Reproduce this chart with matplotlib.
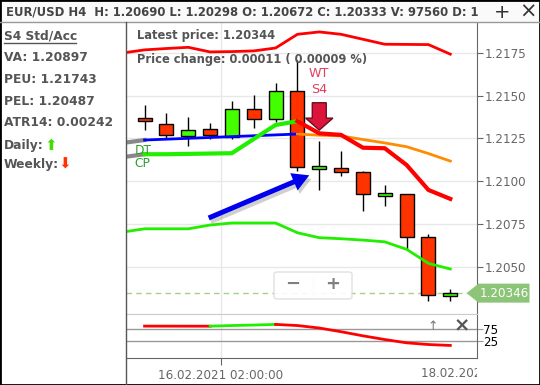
import numpy as np
import matplotlib.pyplot as plt
import matplotlib.patheffects as pe
from matplotlib.patches import FancyArrow, FancyArrowPatch, FancyBboxPatch, Polygon, Rectangle
from matplotlib.lines import Line2D
from matplotlib.transforms import Bbox, TransformedBbox, blended_transform_factory

W, H = 540, 385

# EUR/USD H4 candles
opens  = [1.21372, 1.21337, 1.21264, 1.21303, 1.21258, 1.21425, 1.21366, 1.21526,
          1.21072, 1.21079, 1.21056, 1.20913, 1.20927, 1.20672, 1.20330]
highs  = [1.21448, 1.21401, 1.21375, 1.21343, 1.21467, 1.21506, 1.21574, 1.21707,
          1.21235, 1.21176, 1.21058, 1.20980, 1.20927, 1.20690, 1.20368]
lows   = [1.21302, 1.21249, 1.21204, 1.21249, 1.21245, 1.21311, 1.21346, 1.21059,
          1.20950, 1.21028, 1.20829, 1.20858, 1.20599, 1.20298, 1.20298]
closes = [1.21350, 1.21268, 1.21302, 1.21270, 1.21425, 1.21362, 1.21526, 1.21081,
          1.21089, 1.21056, 1.20927, 1.20930, 1.20677, 1.20333, 1.20346]

# bands, index -1..14
peu_band = [1.21750, 1.21768, 1.21776, 1.21783, 1.21756, 1.21758, 1.21762, 1.21779,
            1.21859, 1.21873, 1.21859, 1.21830, 1.21801, 1.21800, 1.21799, 1.21743]
pel_band = [1.20703, 1.20722, 1.20722, 1.20722, 1.20744, 1.20756, 1.20756, 1.20756,
            1.20699, 1.20670, 1.20664, 1.20656, 1.20646, 1.20602, 1.20520, 1.20487]

# DT / CP, index 0..14 (plus value before the first candle)
dt_prev, cp_prev = 1.21224, 1.21141
dt = [1.21241, 1.21246, 1.21251, 1.21256, 1.21261, 1.21266, 1.21271, 1.21276,
      1.21269, 1.21265, 1.21244, 1.21224, 1.21202, 1.21162, 1.21118]
cp = [1.21158, 1.21158, 1.21160, 1.21162, 1.21164, 1.21247, 1.21329, 1.21351,
      1.21280, 1.21271, 1.21196, 1.21193, 1.21095, 1.20949, 1.20897]
turn = 7  # colour changes after this candle

# oscillator in lower pane
osc = [86.6, 86.5, 86.4, 86.3, 89.0, 91.0, 93.6, 89.0, 78.7, 63.4, 46.5, 31.2, 17.6, 10.5, 6.8]
osc_green = (3, 6)

price_ticks = [1.2050, 1.2075, 1.2100, 1.2125, 1.2150, 1.2175]
date_ticks = [3.5, 15.5]
date_labels = ["16.02.2021 02:00:00", "18.02.2021 02:00:00"]

header = "EUR/USD H4  H: 1.20690 L: 1.20298 O: 1.20672 C: 1.20333 V: 97560 D: 1"
side_info = ["VA: 1.20897", "PEU: 1.21743", "PEL: 1.20487", "ATR14: 0.00242"]
latest = 1.20346

RED, GREEN = "#ff3300", "#44ff00"
GRID = "#e8e8e8"
TXT = "#555555"


def fx(x):
    return x / W


def fy(y):
    return 1 - y / H


fig = plt.figure(figsize=(W / 100, H / 100), dpi=100)
fig.patch.set_facecolor("white")

ax = fig.add_axes([fx(126), fy(314), fx(476.5) - fx(126), fy(22) - fy(314)])
ax2 = fig.add_axes([fx(126), fy(357.5), fx(476.5) - fx(126), fy(314) - fy(357.5)])

x = np.arange(len(opens))
xb = np.arange(-1, len(opens))

# ---- main pane
ax.set_xlim(-0.85, 15.2)
ax.set_ylim(1.20224, 1.21931)
ax.set_yticks(price_ticks)
ax.set_yticklabels([f"{t:.4f}" for t in price_ticks])
ax.yaxis.tick_right()
ax.tick_params(axis="y", length=4, color="#666666", labelcolor="#666666", labelsize=8.6, pad=2)
ax.set_xticks(date_ticks[:1])
ax.tick_params(axis="x", length=0, labelbottom=False)
ax.grid(color=GRID, lw=1)
ax.set_axisbelow(True)
for s in ["left", "top"]:
    ax.spines[s].set_visible(False)
ax.spines["right"].set_color("#666666")
ax.spines["bottom"].set_color("#cccccc")

o = np.array(opens)
c = np.array(closes)
cols = [GREEN if cc >= oo else RED for oo, cc in zip(o, c)]
ax.vlines(x, lows, highs, color="black", lw=1, zorder=3)
ax.bar(x, np.abs(c - o), bottom=np.minimum(o, c), width=0.64, color=cols,
       edgecolor="black", lw=1, zorder=4)

ax.plot(xb, peu_band, color="#ff0000", lw=2, zorder=5)
ax.plot(xb, pel_band, color="#22ee00", lw=2, zorder=5)

ax.plot([-1, 0], [dt_prev, dt[0]], color="#888888", lw=3, zorder=5)
ax.plot([-1, 0], [cp_prev, cp[0]], color="#888888", lw=3, zorder=5)
ax.plot(x[:turn + 1], dt[:turn + 1], color="#0000ff", lw=2, zorder=5)
ax.plot(x[turn:], dt[turn:], color="#ff8c00", lw=2, zorder=5)
ax.plot(x[:turn + 1], cp[:turn + 1], color="#22ee00", lw=3, zorder=5)
ax.plot(x[turn:], cp[turn:], color="#ff0000", lw=3, zorder=5)

ax.text(-0.45, dt_prev - 0.00045, "DT", color="#2e9e2e", fontsize=8.8, va="center", zorder=6)
ax.text(-0.45, cp_prev - 0.0004, "CP", color="#2e9e2e", fontsize=8.8, va="center", zorder=6)

ax.axhline(latest, color="#a8d08d", lw=1, ls=(0, (4, 3)), zorder=2)

# WT S4 signal arrow
ax.add_patch(FancyArrow(8, 1.21459, 0, -0.00160, width=0.64, head_width=1.25,
                        head_length=0.0007, length_includes_head=True,
                        fc="#dc143c", ec="#6b1020", lw=1, zorder=7))
ax.text(8, 1.21630, "WT", color="#e0405e", fontsize=9.2, ha="center", va="center")
ax.text(8, 1.21537, "S4", color="#e0405e", fontsize=9.2, ha="center", va="center")

# blue pointer arrow
blue = FancyArrowPatch((2.82, 1.20779), (7.66, 1.21041),
                       arrowstyle="simple,head_length=12,head_width=13.5,tail_width=3.6",
                       mutation_scale=1, color="#0000ee", lw=0, zorder=8)
blue.set_path_effects([pe.SimplePatchShadow(offset=(1.5, -2.5), shadow_rgbFace="#777777", alpha=0.35),
                       pe.Normal()])
ax.add_patch(blue)

ax.text(0.032, 0.955, "Latest price: 1.20344", transform=ax.transAxes, color=TXT,
        fontsize=8.3, fontweight="bold", va="center")
ax.text(0.032, 0.873, "Price change: 0.00011 ( 0.00009 %)", transform=ax.transAxes, color=TXT,
        fontsize=8.3, fontweight="bold", va="center")

# ---- lower pane
ax2.set_xlim(-0.85, 15.2)
ax2.set_ylim(-43, 136.6)
ax2.axhline(75, color="#999999", lw=1)
ax2.axhline(25, color="#999999", lw=1)
ax2.set_yticks([25, 75])
ax2.set_yticklabels(["25", "75"])
ax2.yaxis.tick_right()
ax2.tick_params(axis="y", length=4, color="#999999", labelcolor="black", labelsize=8.6, pad=1)
ax2.set_xticks(date_ticks[:1])
ax2.set_xticklabels(date_labels[:1])
ax2.tick_params(axis="x", length=5, color="#666666", labelcolor="#666666", labelsize=8.6, pad=3)
ax2.grid(axis="x", color=GRID, lw=1)
ax2.set_axisbelow(True)
ax2.spines["left"].set_visible(False)
ax2.spines["top"].set_color("#cccccc")
ax2.spines["right"].set_color("#666666")
ax2.spines["bottom"].set_color("#666666")

g0, g1 = osc_green
ax2.plot(x[:g0 + 1], osc[:g0 + 1], color="#ff0000", lw=2)
ax2.plot(x[g0:g1 + 1], osc[g0:g1 + 1], color="#22ee00", lw=2)
ax2.plot(x[g1:], osc[g1:], color="#ff0000", lw=2)

t2 = fig.text(0, fy(373.6), date_labels[1], color="#666666", fontsize=8.6, ha="center", va="center",
              transform=blended_transform_factory(ax2.transData, fig.transFigure))
t2.set_position((date_ticks[1], fy(373.6)))
t2.set_clip_box(TransformedBbox(Bbox([[0, 0], [fx(476.5), 1]]), fig.transFigure))
t2.set_clip_on(True)

fig.text(fx(432.9), fy(327), "↑", color="#777777", fontsize=9, ha="center", va="center")
fig.text(fx(461.4), fy(326), "×", color="#555555", fontsize=14, fontweight="bold", ha="center", va="center")

# ---- price label
ypix = ax.transData.transform((0, latest))[1]
inv = fig.transFigure.inverted()
pts = [(466.6, 0), (478.5, -9.5), (529.5, -9.5), (529.5, 9.5), (478.5, 9.5)]
poly = [inv.transform((px, ypix + dy)) for px, dy in pts]
fig.patches.append(Polygon(poly, closed=True, transform=fig.transFigure, fc="#8cc478", ec="none"))
fig.text(fx(504), inv.transform((0, ypix))[1], f"{latest:.5f}", color="white", fontsize=8.6,
         ha="center", va="center")

# ---- zoom buttons
fig.patches.append(FancyBboxPatch((fx(274), fy(299)), fx(352) - fx(274), fy(272) - fy(299),
                                  boxstyle="round,pad=0,rounding_size=0.006", transform=fig.transFigure,
                                  fc="white", ec="#dddddd", lw=1, alpha=0.9, zorder=10))
fig.lines.append(Line2D([fx(312.7)] * 2, [fy(276), fy(295)], transform=fig.transFigure, color="#dddddd", lw=1))
fig.text(fx(292.7), fy(284), "−", color="#808080", fontsize=13, fontweight="bold", ha="center", va="center", zorder=11)
fig.text(fx(333), fy(284), "+", color="#808080", fontsize=13, fontweight="bold", ha="center", va="center", zorder=11)

# ---- header and frame
fig.patches.append(Rectangle((0, fy(21.7)), 1, 1 - fy(21.7), transform=fig.transFigure, fc="#fafafa", ec="none", zorder=0))
fig.text(fx(6), fy(12), header, color="#444444", fontsize=8.4, fontweight="bold", va="center")
fig.text(fx(502), fy(12), "+", color="#333333", fontsize=14, ha="center", va="center")
fig.text(fx(527.5), fy(12), "×", color="#333333", fontsize=15, ha="center", va="center")
fig.lines.append(Line2D([0, 1], [fy(21.7)] * 2, transform=fig.transFigure, color="#999999", lw=1))
fig.lines.append(Line2D([fx(126)] * 2, [0, fy(21.7)], transform=fig.transFigure, color="#555555", lw=1))
fig.patches.append(Rectangle((0, 0), 1, 1, transform=fig.transFigure, fill=False, ec="black", lw=2))

# ---- left info panel
fig.text(fx(3.5), fy(36), "S4 Std/Acc", color=TXT, fontsize=8.8, fontweight="bold", va="center")
fig.lines.append(Line2D([fx(3.5), fx(76)], [fy(42.5)] * 2, transform=fig.transFigure, color=TXT, lw=1))
for i, s in enumerate(side_info):
    fig.text(fx(3.5), fy(57.9 + 21.6 * i), s, color=TXT, fontsize=8.8, fontweight="bold", va="center")
fig.text(fx(3.5), fy(145), "Daily:", color=TXT, fontsize=8.8, fontweight="bold", va="center")
fig.text(fx(50.7), fy(145), "⬆", color="#44dd00", fontsize=11, ha="center", va="center")
fig.text(fx(3.5), fy(164.3), "Weekly:", color=TXT, fontsize=8.8, fontweight="bold", va="center")
fig.text(fx(65), fy(164.3), "⬇", color=RED, fontsize=11, ha="center", va="center")

fig.savefig("out.png", dpi=100)
